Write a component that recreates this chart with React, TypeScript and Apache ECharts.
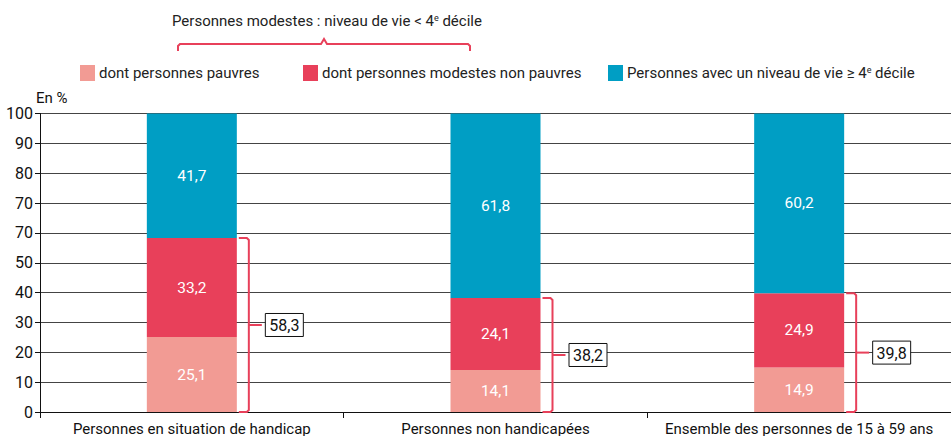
import React, { useEffect, useRef } from "react";
import * as echarts from "echarts";

const categories = [
  "Personnes en situation de handicap",
  "Personnes non handicapées",
  "Ensemble des personnes de 15 à 59 ans",
];
const pauvres = [25.1, 14.1, 14.9];
const modestesNonPauvres = [33.2, 24.1, 24.9];
const auDessus = [41.7, 61.8, 60.2];
const modestesTotal = [58.3, 38.2, 39.8];
const yTickLabels = ["0", "10", "20", "30", "40", "50", "70", "70", "80", "90", "100"];
const seriesNames = [
  "dont personnes pauvres",
  "dont personnes modestes non pauvres",
  "Personnes avec un niveau de vie ≥ 4e décile",
];
const groupTitle = "Personnes modestes : niveau de vie < 4";

const FONT = "Roboto, 'Liberation Sans', sans-serif";
const FS = 15;
const PINK = "#F29B94";
const RED = "#E8405A";
const BLUE = "#009EC4";
const fmt = (v: number) => v.toFixed(1).replace(".", ",");

export default function App() {
  const ref = useRef<HTMLDivElement>(null);
  useEffect(() => {
    document.body.style.margin = "0";
    const chart = echarts.init(ref.current!, null, { renderer: "svg" });
    const barLabel = {
      show: true,
      position: "inside",
      color: "#fff",
      fontFamily: FONT,
      fontSize: 15.5,
      formatter: (p: any) => fmt(p.value),
    };
    const legendBase = {
      top: 60,
      icon: "rect",
      itemWidth: 15,
      itemHeight: 16,
      itemGap: 0,
      textStyle: {
        fontFamily: FONT,
        fontSize: FS,
        color: "#222",
        padding: [0, 0, 0, -1],
        rich: {
          a: { fontFamily: FONT, fontSize: FS, color: "#222" },
          sup: { fontFamily: FONT, fontSize: 9, color: "#222", verticalAlign: "top", padding: [0, 0, 7, 0] },
        },
      },
    };
    chart.setOption({
      animation: false,
      textStyle: { fontFamily: FONT },
      grid: { left: 40, width: 918, top: 113.5, bottom: 24, containLabel: false },
      legend: [
        { ...legendBase, left: 75, data: [seriesNames[0]] },
        { ...legendBase, left: 298, data: [seriesNames[1]] },
        {
          ...legendBase,
          left: 603,
          data: [seriesNames[2]],
          formatter: () => "{a|Personnes avec un niveau de vie ≥ 4}{sup|e}{a| décile}",
        },
      ],
      xAxis: {
        type: "category",
        data: categories,
        axisLine: { lineStyle: { color: "#111", width: 1 } },
        axisTick: { show: true, length: 6, lineStyle: { color: "#111" } },
        axisLabel: { interval: 0, fontFamily: FONT, fontSize: FS, color: "#111", margin: 9 },
      },
      yAxis: {
        type: "value",
        min: 0,
        max: 100,
        interval: 10,
        name: "En %",
        nameGap: 6,
        nameTextStyle: { fontFamily: FONT, fontSize: 15, color: "#111", align: "left", padding: [0, 0, 0, -4] },
        axisLine: { show: true, lineStyle: { color: "#111" } },
        axisTick: { show: true, length: 5, lineStyle: { color: "#111" } },
        axisLabel: {
          fontFamily: FONT,
          fontSize: 16,
          color: "#111",
          margin: 7,
          formatter: (v: number) => yTickLabels[Math.round(v / 10)],
        },
        splitLine: { show: true, lineStyle: { color: "#444", width: 1 } },
      },
      series: [
        {
          name: seriesNames[0],
          type: "bar",
          stack: "t",
          barWidth: 90,
          data: pauvres,
          itemStyle: { color: PINK },
          label: barLabel,
        },
        {
          name: seriesNames[1],
          type: "bar",
          stack: "t",
          barWidth: 90,
          data: modestesNonPauvres,
          itemStyle: { color: RED },
          label: barLabel,
        },
        {
          name: seriesNames[2],
          type: "bar",
          stack: "t",
          barWidth: 90,
          data: auDessus,
          itemStyle: { color: BLUE },
          label: barLabel,
        },
        {
          type: "custom",
          silent: true,
          z: 10,
          data: modestesTotal.map((v, i) => [i, v]),
          renderItem: (params: any, api: any) => {
            const idx = api.value(0);
            const total = api.value(1);
            const top = api.coord([idx, total]);
            const bot = api.coord([idx, 0]);
            const mid = api.coord([idx, total / 2]);
            const x = top[0] + 57;
            const stroke = { stroke: RED, lineWidth: 2, fill: null };
            return {
              type: "group",
              children: [
                {
                  type: "polyline",
                  shape: {
                    points: [
                      [x - 10, top[1]],
                      [x - 2, top[1]],
                      [x, top[1] + 2],
                      [x, bot[1] - 2],
                      [x - 2, bot[1]],
                      [x - 10, bot[1]],
                    ],
                  },
                  style: stroke,
                },
                {
                  type: "line",
                  shape: { x1: x, y1: mid[1], x2: x + 13, y2: mid[1] },
                  style: stroke,
                },
                {
                  type: "rect",
                  shape: { x: x + 16.5, y: mid[1] - 11.5, width: 38, height: 23 },
                  style: { fill: "#fff", stroke: "#111", lineWidth: 1 },
                },
                {
                  type: "text",
                  x: x + 35.5,
                  y: mid[1] + 0.5,
                  style: {
                    text: fmt(total),
                    fontFamily: FONT,
                    fontSize: 16,
                    fill: "#111",
                    align: "center",
                    verticalAlign: "middle",
                  },
                },
              ],
            };
          },
        },
      ],
      graphic: [
        {
          type: "text",
          left: 172,
          top: 13,
          style: {
            text: `{a|${groupTitle}}{sup|e}{a| décile}`,
            rich: {
              a: { fontFamily: FONT, fontSize: FS, fill: "#222" },
              sup: { fontFamily: FONT, fontSize: 9, fill: "#222", verticalAlign: "top", padding: [0, 0, 7, 0] },
            },
          },
        },
        {
          type: "polyline",
          shape: {
            points: [
              [178, 51],
              [178, 46],
              [180, 44],
              [321, 44],
              [324, 39],
              [327, 44],
              [468, 44],
              [470, 46],
              [470, 51],
            ],
          },
          style: { stroke: RED, lineWidth: 2, fill: null },
        },
      ],
    });
    return () => chart.dispose();
  }, []);
  return <div ref={ref} style={{ width: 951, height: 436 }} />;
}
